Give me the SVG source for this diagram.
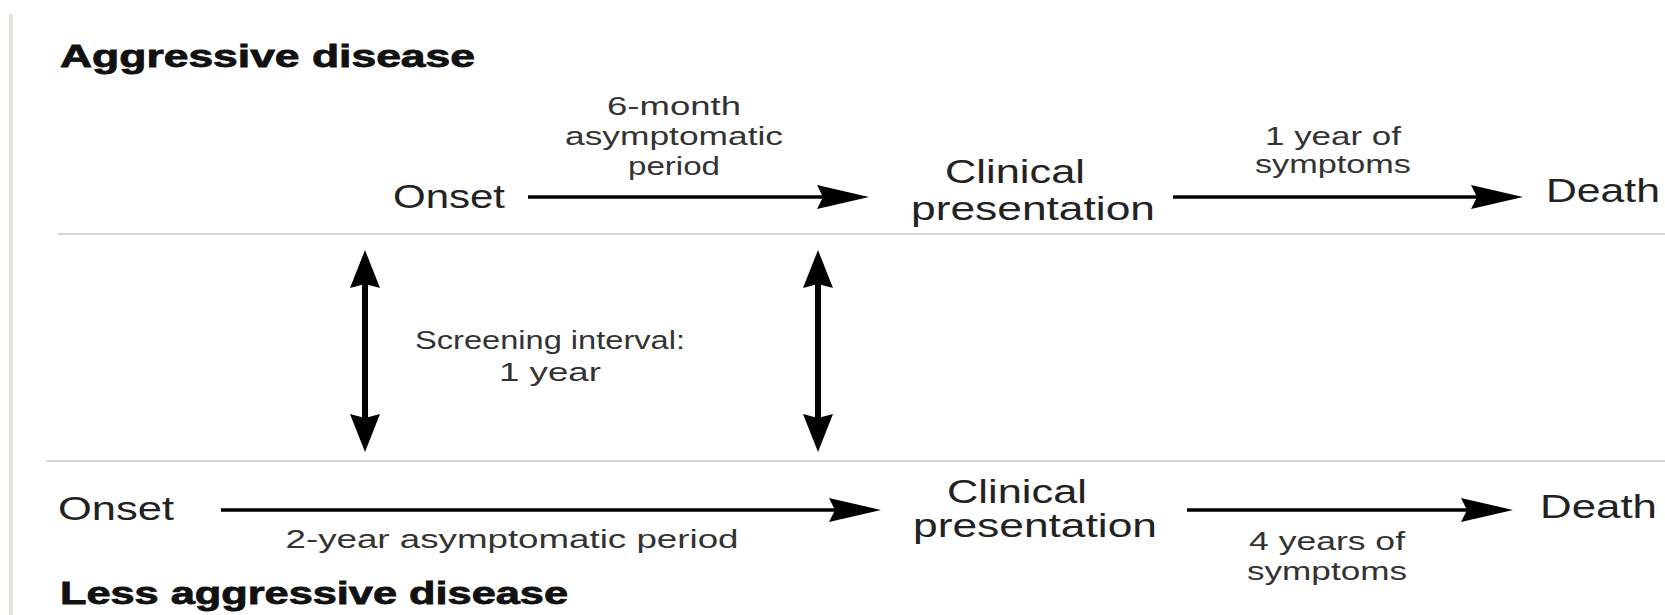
<svg xmlns="http://www.w3.org/2000/svg" width="1665" height="615" viewBox="0 0 1665 615">
<style>
.t{font-family:"Liberation Sans",Arial,sans-serif;fill:#222}
.big{font-size:33px}
.sm{font-size:26px;fill:#333}
.title{font-family:"Liberation Sans",Arial,sans-serif;font-size:31px;font-weight:bold;fill:#111;stroke:#111;stroke-width:0.8}
.rule{stroke:#d6d6d6;stroke-width:2}
.arr{stroke:#000;stroke-width:3.5;fill:none}
.varr{stroke:#000;stroke-width:6;fill:none}
</style>
<defs>
<marker id="hh" markerUnits="userSpaceOnUse" markerWidth="52" markerHeight="24" refX="22" refY="12" orient="auto">
<path d="M0,0 L52,12 L0,24 L6,12 z" fill="#000"/>
</marker>
<marker id="vh" markerUnits="userSpaceOnUse" markerWidth="38" markerHeight="30" refX="12" refY="15" orient="auto-start-reverse">
<path d="M0,0 L38,15 L0,30 L4,15 z" fill="#000"/>
</marker>
</defs>
<rect x="0" y="0" width="1665" height="615" fill="#fff"/>
<line x1="11" y1="14" x2="11" y2="615" stroke="#e4e4de" stroke-width="4"/>
<g id="rules">
<line class="rule" x1="58" y1="234" x2="1665" y2="234"/>
<line class="rule" x1="46" y1="461" x2="1665" y2="461"/>
</g>
<g id="title-aggressive"><text class="title" x="60" y="67" textLength="415" lengthAdjust="spacingAndGlyphs">Aggressive disease</text></g>
<g id="title-less"><text class="title" x="60" y="604" textLength="508" lengthAdjust="spacingAndGlyphs">Less aggressive disease</text></g>
<g id="onset-a"><text class="t big" x="393" y="208" textLength="112" lengthAdjust="spacingAndGlyphs">Onset</text></g>
<g id="clinical-a">
<text class="t big" x="945" y="183" textLength="140" lengthAdjust="spacingAndGlyphs">Clinical</text>
<text class="t big" x="911" y="220" textLength="244" lengthAdjust="spacingAndGlyphs">presentation</text>
</g>
<g id="death-a"><text class="t big" x="1546" y="202" textLength="114" lengthAdjust="spacingAndGlyphs">Death</text></g>
<g id="onset-b"><text class="t big" x="58" y="520" textLength="116" lengthAdjust="spacingAndGlyphs">Onset</text></g>
<g id="clinical-b">
<text class="t big" x="947" y="503" textLength="140" lengthAdjust="spacingAndGlyphs">Clinical</text>
<text class="t big" x="913" y="537" textLength="244" lengthAdjust="spacingAndGlyphs">presentation</text>
</g>
<g id="death-b"><text class="t big" x="1540" y="518" textLength="117" lengthAdjust="spacingAndGlyphs">Death</text></g>
<g id="connectors">
<line class="arr" x1="528" y1="197" x2="839" y2="197" marker-end="url(#hh)"/>
<line class="arr" x1="1173" y1="197" x2="1493" y2="197" marker-end="url(#hh)"/>
<line class="arr" x1="221" y1="510" x2="851" y2="510" marker-end="url(#hh)"/>
<line class="arr" x1="1187" y1="510" x2="1483" y2="510" marker-end="url(#hh)"/>
<line class="varr" x1="365" y1="276" x2="365" y2="426" marker-start="url(#vh)" marker-end="url(#vh)"/>
<line class="varr" x1="818" y1="276" x2="818" y2="426" marker-start="url(#vh)" marker-end="url(#vh)"/>
</g>
<g id="label-6month" text-anchor="middle">
<text class="t sm" x="674" y="115" textLength="134" lengthAdjust="spacingAndGlyphs">6-month</text>
<text class="t sm" x="674" y="145" textLength="218" lengthAdjust="spacingAndGlyphs">asymptomatic</text>
<text class="t sm" x="674" y="175" textLength="92" lengthAdjust="spacingAndGlyphs">period</text>
</g>
<g id="label-1year" text-anchor="middle">
<text class="t sm" x="1333" y="145" textLength="136" lengthAdjust="spacingAndGlyphs">1 year of</text>
<text class="t sm" x="1333" y="173" textLength="156" lengthAdjust="spacingAndGlyphs">symptoms</text>
</g>
<g id="label-screening" text-anchor="middle">
<text class="t sm" x="550" y="349" textLength="270" lengthAdjust="spacingAndGlyphs">Screening interval:</text>
<text class="t sm" x="550" y="381" textLength="102" lengthAdjust="spacingAndGlyphs">1 year</text>
</g>
<g id="label-2year" text-anchor="middle">
<text class="t sm" x="512" y="548" textLength="453" lengthAdjust="spacingAndGlyphs">2-year asymptomatic period</text>
</g>
<g id="label-4years" text-anchor="middle">
<text class="t sm" x="1327" y="550" textLength="156" lengthAdjust="spacingAndGlyphs">4 years of</text>
<text class="t sm" x="1327" y="580" textLength="160" lengthAdjust="spacingAndGlyphs">symptoms</text>
</g>
</svg>
